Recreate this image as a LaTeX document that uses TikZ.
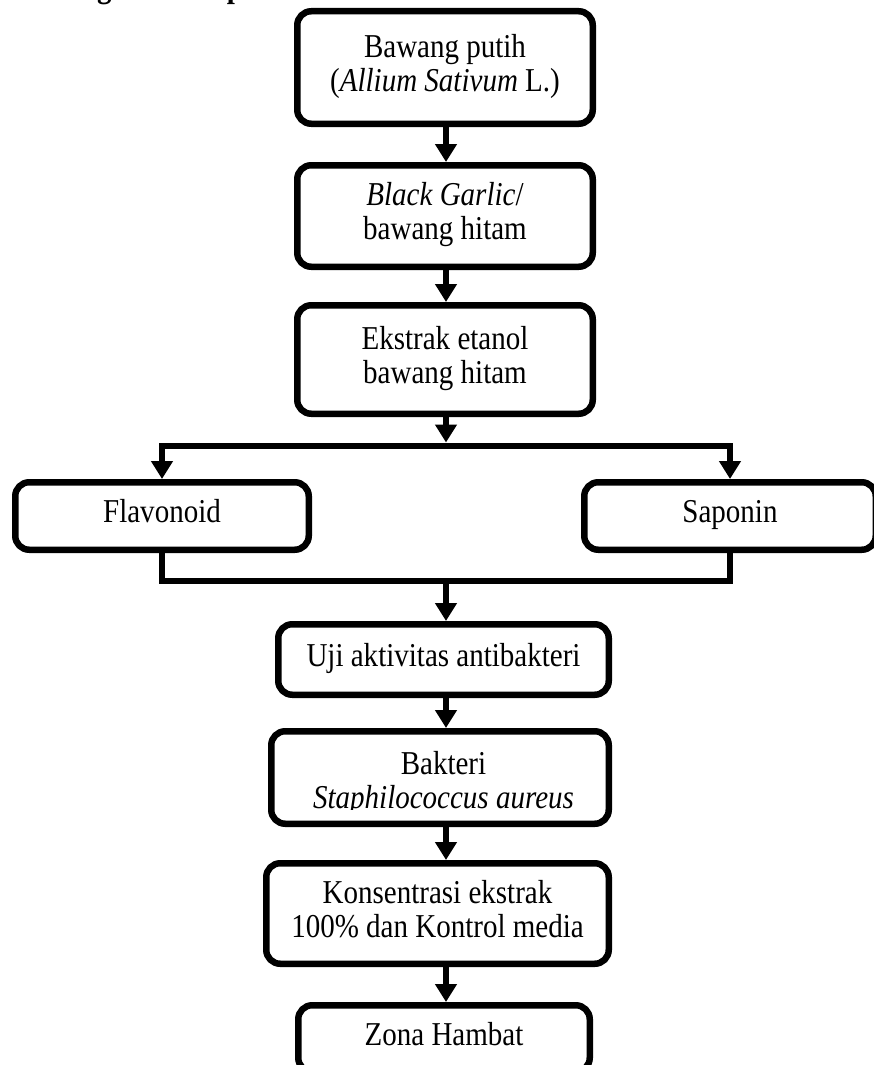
\documentclass[tikz,border=0pt]{standalone}
\usepackage{fontspec}
\setmainfont{Liberation Serif}[FakeStretch=0.87]
\usetikzlibrary{arrows.meta}
\newcommand{\boxfont}{\fontsize{33.35}{32.5}\selectfont}
\begin{document}
\begin{tikzpicture}[x=1pt,y=-1pt,
  box/.style={draw=black, line width=6.5pt, rounded corners=14pt, fill=white,
    inner sep=0pt, align=center, font=\boxfont},
  txt/.style={inner sep=0pt, align=center, font=\boxfont},
  conn/.style={draw=black, line width=6.5pt, line cap=rect, line join=miter},
  arr/.style={conn, -{Triangle[width=21pt,length=18pt]}}]
\useasboundingbox (0,0) rectangle (873,1065);
% title (cut off by the top edge)
\node[anchor=base west, inner sep=0pt, font=\bfseries\boxfont] (title) at (18,-2) {Kerangka Konsep};
% boxes
\node[box, minimum width=295.5pt, minimum height=112.5pt] (b1) at (445,67.5) {\strut Bawang putih\\\strut(\textit{Allium Sativum} L.)};
\node[box, minimum width=295.5pt, minimum height=101.5pt] (b2) at (445,216) {\strut\textit{Black Garlic}/\\\strut bawang hitam};
\node[box, minimum width=295.5pt, minimum height=108.5pt] (b3) at (445,359.5) {\strut Ekstrak etanol\\\strut bawang hitam};
\node[box, minimum width=293.5pt, minimum height=67.5pt] (flav) at (162,516) {\strut Flavonoid};
\node[box, minimum width=291.5pt, minimum height=67.5pt] (sap) at (730,516) {\strut Saponin};
\node[box, minimum width=330.5pt, minimum height=70.5pt] (uji) at (443.5,659.5) {\strut Uji aktivitas antibakteri};
\node[box, minimum width=337.5pt, minimum height=92.5pt] (bak) at (440,777.5) {};
\begin{scope}
  \clip (268,728) rectangle (612,809);
  \node[txt] (bakt) at (443.5,784.5) {\strut Bakteri\\\strut\textit{Staphilococcus aureus}};
\end{scope}
\node[box, minimum width=342.5pt, minimum height=100.5pt] (kon) at (437.5,913.5) {\strut Konsentrasi ekstrak\\\strut 100\% dan Kontrol media};
\node[box, minimum width=291.5pt, minimum height=66.5pt] (zona) at (444,1038.5) {\strut Zona Hambat};
% junction coordinates
\coordinate (jt) at (446,442.5);
\coordinate (hL) at (162,446);
\coordinate (hR) at (730,446);
\coordinate (mb) at (446,581);
% connectors
\draw[arr] (b1.south -| jt) -- (b2.north -| jt);
\draw[arr] (b2.south -| jt) -- (b3.north -| jt);
\draw[arr] (b3.south -| jt) -- (jt);
\draw[conn] (hL) -- (hR);
\draw[arr] (hL) -- (flav.north);
\draw[arr] (hR) -- (sap.north);
\draw[conn] (flav.south) |- (mb) -| (sap.south);
\draw[arr] (mb) -- (uji.north -| mb);
\draw[arr] (uji.south -| mb) -- (bak.north -| mb);
\draw[arr] (bak.south -| mb) -- (kon.north -| mb);
\draw[arr] (kon.south -| mb) -- (zona.north -| mb);
\end{tikzpicture}
\end{document}
